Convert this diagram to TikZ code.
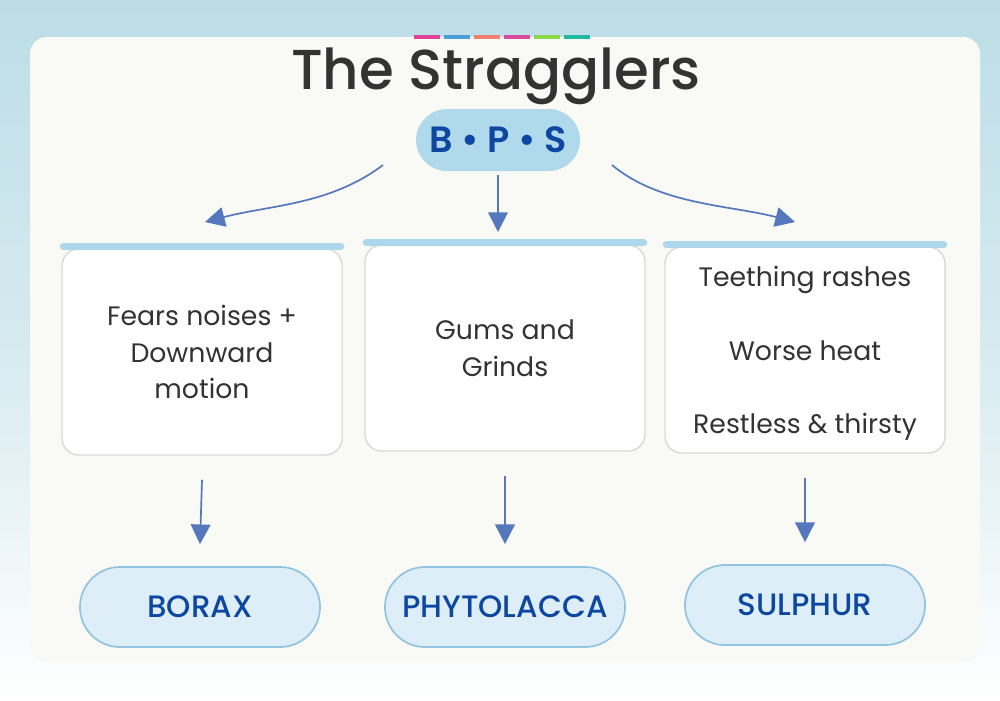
\documentclass[tikz,border=0pt]{standalone}
\usepackage{fontspec}
\setmainfont{Poppins}
\newfontfamily\pmed{Poppins Medium}
\newfontfamily\psemi{Poppins SemiBold}
\usetikzlibrary{positioning,arrows.meta}
\definecolor{bandblue}{HTML}{BCDDE6}
\definecolor{panel}{HTML}{F9F9F6}
\definecolor{pillblue}{HTML}{B0DAEC}
\definecolor{darkblue}{HTML}{0D47A1}
\definecolor{arrowblue}{HTML}{5577BB}
\definecolor{palepill}{HTML}{DDEEF8}
\definecolor{pillline}{HTML}{90C4E0}
\definecolor{barblue}{HTML}{ADD8EC}
\definecolor{textgray}{HTML}{333333}
\tikzstyle{card} = [rectangle, rounded corners=12pt, minimum width=7cm, minimum height=5.15cm, draw=black!15, line width=1pt, fill=white, text centered, align=center, text=textgray, font=\fontsize{19}{26}\selectfont]
\tikzstyle{remedy} = [rectangle, rounded corners=1cm, minimum width=6cm, minimum height=2cm, draw=pillline, line width=1.2pt, fill=palepill, text=darkblue, font=\pmed\fontsize{22}{24}\selectfont]
\tikzstyle{arrow} = [arrowblue, line width=1.2pt, -{Triangle[length=14pt,width=14pt]}]
\begin{document}
\begin{tikzpicture}[x=0.025cm, y=-0.025cm]
\useasboundingbox (0,0) rectangle (1000,700);
\shade[top color=bandblue, bottom color=white, middle color=bandblue!60] (0,0) rectangle (1000,700);
\fill[panel] (30,37) [rounded corners=12pt] rectangle (980,662);

% colour dashes
\foreach \c [count=\i] in {E0449A, 4A9FD8, F08070, D94A9A, 8CD84A, 20B8A0}{
  \definecolor{dashcol}{HTML}{\c}
  \fill[dashcol] (384+\i*30,35) rectangle ++(26,4);
}

\node (title) at (496,76) {\pmed\fontsize{40}{44}\selectfont\color{textgray}The Stragglers};
\node (bps) [rectangle, rounded corners=0.78cm, fill=pillblue, minimum width=4.1cm, minimum height=1.55cm, text=darkblue, font=\psemi\fontsize{26}{28}\selectfont] at (498,140) {B \textbullet\ P \textbullet\ S};

\node (borax) [card] at (202,352) {Fears noises +\\Downward\\motion};
\node (phyto) [card] at (505,348) {Gums and\\Grinds};
\node (sulph) [card, text depth=0pt] at (805,350) {Teething rashes\\[0.92cm]Worse heat\\[0.92cm]Restless \& thirsty};
\foreach \n in {borax,phyto,sulph}
  \draw[barblue, line width=5pt, line cap=round] ([xshift=0.05cm,yshift=0.04cm]\n.north west) -- ([xshift=-0.05cm,yshift=0.04cm]\n.north east);

\node (r1) [remedy] at (200,607) {BORAX};
\node (r2) [remedy] at (505,607) {PHYTOLACCA};
\node (r3) [remedy] at (805,605) {SULPHUR};

\coordinate (lstart) at (383,165);
\coordinate (rstart) at (612,165);
\coordinate (mend) at (498,232);
\draw [arrow] (lstart) .. controls (330,205) and (270,205) .. (205,222);
\draw [arrow] (rstart) .. controls (660,205) and (730,205) .. (795,222);
\draw [arrow] ([yshift=-0.1cm]bps.south) -- (mend);

\draw [arrow] ([yshift=-0.6cm]borax.south) -- ([yshift=0.55cm]r1.north);
\draw [arrow] ([yshift=-0.6cm]phyto.south) -- ([yshift=0.55cm]r2.north);
\draw [arrow] ([yshift=-0.6cm]sulph.south) -- ([yshift=0.55cm]r3.north);
\end{tikzpicture}
\end{document}
